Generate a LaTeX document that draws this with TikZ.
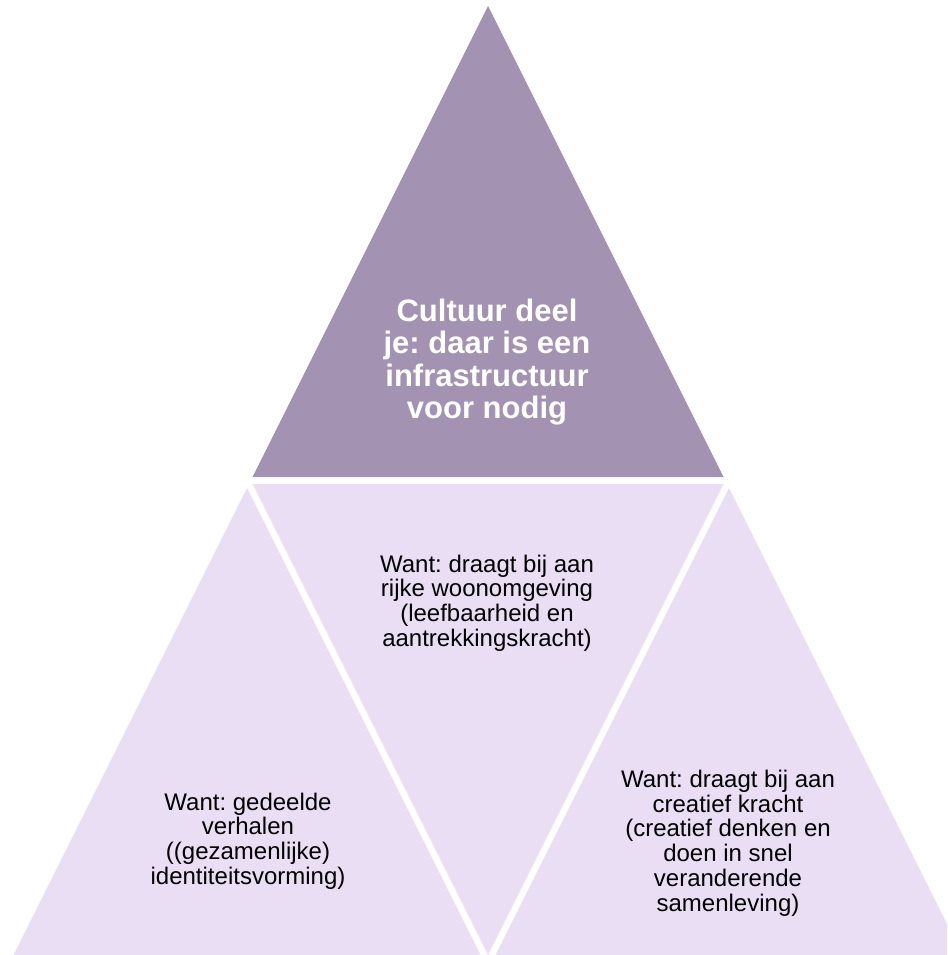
\documentclass[tikz,border=0pt]{standalone}
\usepackage{fontspec}
\setmainfont{Liberation Sans}
\frenchspacing
\usetikzlibrary{positioning}
\definecolor{PyrTop}{RGB}{163,146,178}
\definecolor{PyrLow}{RGB}{234,222,245}

\begin{document}
\begin{tikzpicture}[x=1pt,y=-1pt,
    lowtext/.style={align=center,inner sep=0pt,
        font=\fontsize{24}{24.8}\selectfont},
    toptext/.style={align=center,inner sep=0pt,text=white,
        font=\bfseries\fontsize{31}{32.4}\selectfont}]
\clip (0,0) rectangle (947,955);
% pyramid segments
\fill[PyrTop] (488,6) -- (723.5,477) -- (252.5,477) -- cycle;
\fill[PyrLow] (247,488) -- (480.5,955) -- (13.5,955) -- cycle;
\fill[PyrLow] (252.5,484) -- (723.5,484) -- (488,955) -- cycle;
\fill[PyrLow] (729,488) -- (962.5,955) -- (495.5,955) -- cycle;
% texts
\node[toptext] (top) at (487,362)
    {Cultuur deel\\je: daar is een\\infrastructuur\\voor nodig};
\node[lowtext] (mid) at (487,603)
    {Want: draagt bij aan\\rijke woonomgeving\\(leefbaarheid en\\aantrekkingskracht)};
\node[lowtext] (left) at (248,841)
    {Want: gedeelde\\verhalen\\((gezamenlijke)\\identiteitsvorming)};
\node[lowtext] (right) at (728,843)
    {Want: draagt bij aan\\creatief kracht\\(creatief denken en\\doen in snel\\veranderende\\samenleving)};
\end{tikzpicture}
\end{document}
